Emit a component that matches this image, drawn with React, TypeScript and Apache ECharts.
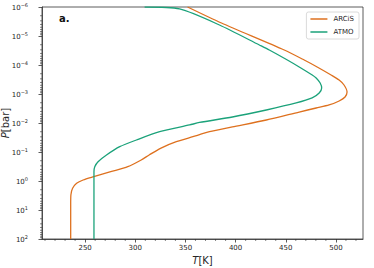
import React, { useEffect, useRef } from "react";
import * as echarts from "echarts";

// ARCiS profile: temperature (K) and pressure (bar)
const arcisT = [352.1, 385.9, 448.5, 468.4, 481.3, 495.2, 503.2, 508.1, 511.1, 509.1, 503.2, 493.2, 480.3, 463.4, 430.6, 396.8, 374.0, 357.4, 340.9, 325.1, 313.8, 305.9, 292.5, 275.5, 258.6, 248.0, 241.5, 237.5, 235.8, 235.6, 235.6];
const arcisP = [1e-6, 3.57e-6, 3.04e-5, 6.73e-5, 1.17e-4, 2.21e-4, 3.29e-4, 4.9e-4, 8.53e-4, 1.27e-3, 1.74e-3, 2.39e-3, 3.04e-3, 4.18e-3, 7.88e-3, 1.37e-2, 2.0e-2, 2.97e-2, 4.41e-2, 7.45e-2, 0.127, 0.189, 0.321, 0.477, 0.711, 0.924, 1.2, 1.79, 3.04, 6.73, 100];

// ATMO profile: temperature (K) and pressure (bar)
const atmoT = [309.3, 344.1, 383.9, 423.7, 433.6, 451.6, 463.4, 476.4, 480.3, 484.3, 485.8, 483.3, 476.3, 460.4, 430.6, 396.8, 364.0, 354.1, 324.3, 301.1, 284.5, 271.3, 262.9, 259.6, 258.8, 258.8];
const atmoP = [1e-6, 1.17e-6, 4.18e-6, 2.04e-5, 3.04e-5, 6.73e-5, 1.17e-4, 2.21e-4, 2.81e-4, 4.18e-4, 6.21e-4, 9.24e-4, 1.37e-3, 2.04e-3, 3.56e-3, 6.21e-3, 9.6e-3, 1.17e-2, 2.0e-2, 3.86e-2, 6.56e-2, 0.127, 0.216, 0.321, 0.477, 100];

const seriesNames = ["ARCiS", "ATMO"];
const xMajorTicks = [250, 300, 350, 400, 450, 500];
const xMinorTicks = [210, 220, 230, 240, 260, 270, 280, 290, 310, 320, 330, 340, 360, 370, 380, 390, 410, 420, 430, 440, 460, 470, 480, 490, 510, 520];
const yMinorTicks: number[] = [];
for (let e = -6; e < 2; e++) {
  for (let m = 2; m <= 9; m++) yMinorTicks.push(m * Math.pow(10, e));
}

const X_MIN = 207;
const X_MAX = 527;
const Y_MIN = 1e-6;
const Y_MAX = 100;

const FONT = "DejaVu Sans";
const INK = "#262626";
const ORANGE = "#de711f";
const GREEN = "#1ba27a";

export default function App() {
  const ref = useRef<HTMLDivElement>(null);
  useEffect(() => {
    if (!ref.current) return;
    const chart = echarts.init(ref.current, undefined, { renderer: "svg" });
    const zip = (a: number[], b: number[]) => a.map((v, i) => [v, b[i]]);
    chart.setOption({
      animation: false,
      backgroundColor: "#ffffff",
      grid: {
        left: 42,
        right: 11,
        top: 7,
        bottom: 29,
        containLabel: false,
        outerBoundsMode: "none",
        show: true,
        borderColor: "#333",
        borderWidth: 0.8,
        backgroundColor: "transparent",
      },
      legend: {
        data: seriesNames,
        orient: "vertical",
        right: 15,
        top: 12,
        icon: "rect",
        itemWidth: 17,
        itemHeight: 1.5,
        itemGap: 5,
        padding: [3, 5, 3, 4],
        backgroundColor: "#fff",
        borderColor: "#d0d0d0",
        borderWidth: 0.8,
        borderRadius: 2,
        textStyle: { fontFamily: FONT, fontSize: 7, color: INK, lineHeight: 8, padding: [0, 0, 0, 1] },
      },
      xAxis: [
        {
          type: "value",
          min: X_MIN,
          max: X_MAX,
          name: "{i|T}[K]",
          nameLocation: "middle",
          nameGap: 16,
          nameMoveOverlap: false,
          nameTextStyle: {
            fontFamily: FONT,
            fontSize: 10,
            color: INK,
            rich: { i: { fontFamily: FONT, fontSize: 10, fontStyle: "italic", color: INK } },
          },
          axisLine: { show: true, onZero: false, lineStyle: { color: "#333", width: 0.8 } },
          axisTick: { show: true, inside: false, length: 3.5, customValues: xMajorTicks, lineStyle: { color: "#333", width: 0.8 } },
          axisLabel: {
            customValues: xMajorTicks,
            fontFamily: FONT,
            fontSize: 7,
            color: INK,
            margin: 5,
          },
          splitLine: { show: false },
        },
      ],
      yAxis: [
        {
          type: "log",
          logBase: 10,
          min: Y_MIN,
          max: Y_MAX,
          inverse: true,
          splitNumber: 8,
          name: "{i|P}[bar]",
          nameLocation: "middle",
          nameGap: 32,
          nameRotate: 90,
          nameMoveOverlap: false,
          nameTextStyle: {
            fontFamily: FONT,
            fontSize: 10,
            color: INK,
            rich: { i: { fontFamily: FONT, fontSize: 10, fontStyle: "italic", color: INK } },
          },
          axisLine: { show: true, onZero: false, lineStyle: { color: "#333", width: 0.8 } },
          axisTick: { show: true, inside: false, length: 3.5, lineStyle: { color: "#333", width: 0.8 } },
          axisLabel: {
            fontFamily: FONT,
            fontSize: 7,
            color: INK,
            margin: 14,
            formatter: (v: number) => {
              const e = Math.round(Math.log10(v));
              const s = e < 0 ? "\u2212" + Math.abs(e) : String(e);
              return "{b|10}{s|" + s + "}";
            },
            rich: {
              b: { fontFamily: FONT, fontSize: 7, color: INK, lineHeight: 9, verticalAlign: "bottom" },
              s: { fontFamily: FONT, fontSize: 5, color: INK, lineHeight: 9, verticalAlign: "top", padding: [0, 0, 3, 0] },
            },
          },
          splitLine: { show: false },
        },
      ],
      series: [
        {
          name: seriesNames[0],
          type: "line",
          data: zip(arcisT, arcisP),
          symbol: "none",
          smooth: 0.25,
          lineStyle: { color: ORANGE, width: 1.3 },
          itemStyle: { color: ORANGE },
          z: 3,
        },
        {
          name: seriesNames[1],
          type: "line",
          data: zip(atmoT, atmoP),
          symbol: "none",
          smooth: 0.25,
          lineStyle: { color: GREEN, width: 1.3 },
          itemStyle: { color: GREEN },
          z: 3,
        },
        {
          type: "custom",
          silent: true,
          clip: false,
          data: yMinorTicks.map((v) => [X_MIN, v]),
          renderItem: (_p: any, api: any) => {
            const pt = api.coord([api.value(0), api.value(1)]);
            return {
              type: "line",
              shape: { x1: pt[0] - 2, y1: pt[1], x2: pt[0], y2: pt[1] },
              style: { stroke: "#333", lineWidth: 0.6 },
            };
          },
        },
        {
          type: "custom",
          silent: true,
          clip: false,
          data: xMinorTicks.map((v) => [v, Y_MAX]),
          renderItem: (_p: any, api: any) => {
            const pt = api.coord([api.value(0), api.value(1)]);
            return {
              type: "line",
              shape: { x1: pt[0], y1: pt[1], x2: pt[0], y2: pt[1] + 2 },
              style: { stroke: "#333", lineWidth: 0.6 },
            };
          },
        },
      ],
      graphic: [
        {
          type: "text",
          left: 59,
          top: 13,
          style: { text: "a.", fontFamily: FONT, fontSize: 10, fontWeight: "bold", fill: "#111" },
        },
      ],
    });
    return () => chart.dispose();
  }, []);
  return (
    <div
      ref={ref}
      style={{ position: "fixed", left: 0, top: 0, width: 374, height: 268, background: "#fff" }}
    />
  );
}
